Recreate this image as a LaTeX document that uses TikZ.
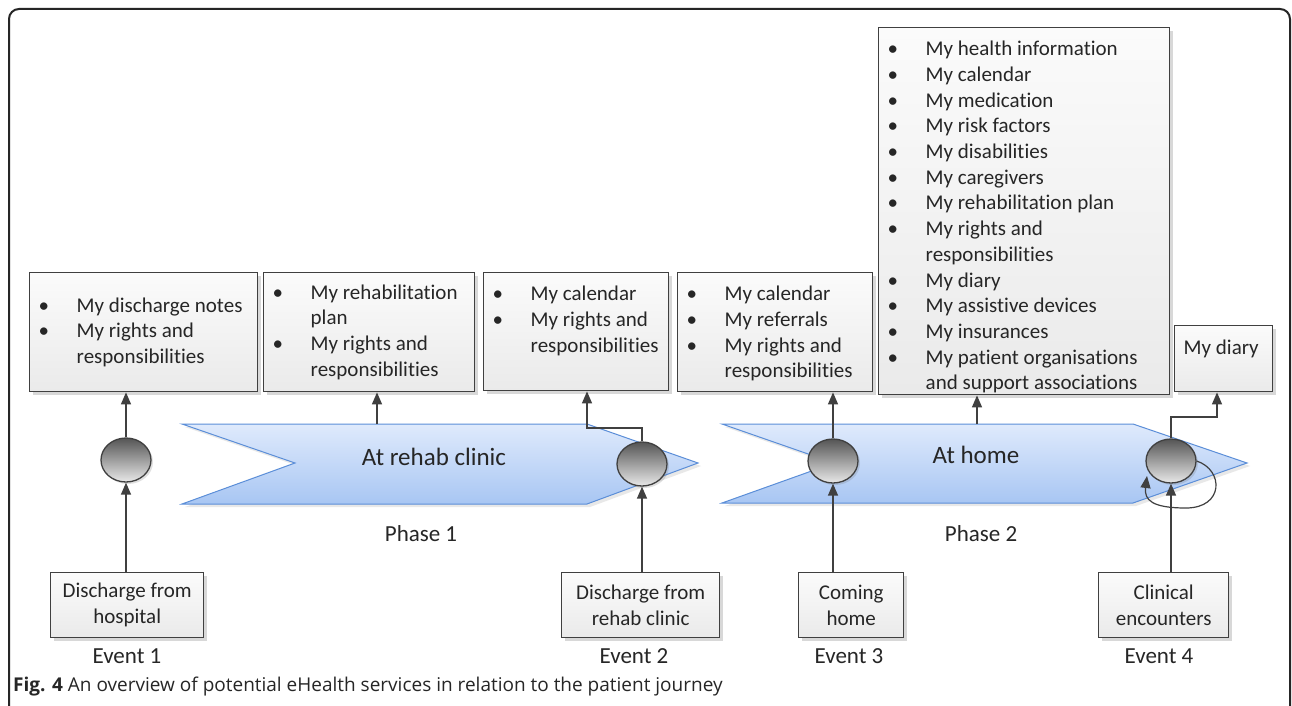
\documentclass[tikz,border=0pt]{standalone}
\usepackage{fontspec}
\setmainfont{Carlito}[Ligatures=NoCommon]
\newfontfamily\capfont{Open Sans}
\usetikzlibrary{shadows,arrows.meta,shapes.geometric}
\definecolor{txt}{HTML}{262626}
\definecolor{edge}{HTML}{404040}
\definecolor{bluetop}{HTML}{DFEAFC}
\definecolor{bluebot}{HTML}{A8C6F3}
\definecolor{blueedge}{HTML}{5B8ED8}
\definecolor{boxtop}{HTML}{FBFBFB}
\definecolor{boxbot}{HTML}{EAEAEA}
\definecolor{circtop}{HTML}{555555}
\definecolor{circbot}{HTML}{E8E8E8}
\newcommand\bul[1]{\par\noindent\hangindent=47pt\hangafter=1\makebox[47pt][l]{\hspace{9pt}\textbullet}#1\par}
\newcommand\bulf[1]{\par\noindent\hangindent=47pt\hangafter=1\makebox[47pt][l]{\rule{0pt}{28pt}\hspace{9pt}\textbullet}#1\par}
\tikzset{
  infobox/.style={draw=edge, line width=1.4pt, top color=boxtop, bottom color=boxbot,
    inner sep=0pt, anchor=north west, text=txt, font=\fontsize{21}{25.7}\selectfont,
    drop shadow={shadow xshift=3pt, shadow yshift=-3pt, opacity=0.25, fill=black!60}},
  evcirc/.style={ellipse, draw=edge, line width=1.3pt, top color=circtop, bottom color=circbot,
    minimum width=50pt, minimum height=44pt, inner sep=0pt,
    drop shadow={shadow xshift=2pt, shadow yshift=-2pt, opacity=0.2, fill=black!60}},
  banner/.style={draw=blueedge, line width=1pt, top color=bluetop, bottom color=bluebot,
    drop shadow={shadow xshift=3pt, shadow yshift=-3pt, opacity=0.15, fill=black!60}},
  arr/.style={draw=edge, line width=1.4pt, -{Triangle[length=12pt,width=10pt]}},
  biglab/.style={text=txt, font=\fontsize{25}{30}\selectfont, inner sep=0pt},
  lab/.style={text=txt, font=\fontsize{23}{28}\selectfont, inner sep=0pt}
}
\begin{document}
\begin{tikzpicture}[x=1pt,y=-1pt]
\useasboundingbox (0,0) rectangle (1292,706);
\clip (0,0) rectangle (1292,706);
\fill[white] (0,0) rectangle (1292,706);
% frame
\draw[line width=2pt, draw=black!85, rounded corners=10pt] (9,740) -- (9,9) -- (1290,9) -- (1290,740);
% banners
\path[banner] (182,424) -- (587,424) -- (698,463) -- (587,504) -- (182,504) -- (295,463) -- cycle;
\path[banner] (722,424) -- (1133,424) -- (1247,463) -- (1133,503) -- (722,503) -- (834,463) -- cycle;
\node[biglab] (t1) at (434,457) {At rehab clinic};
\node[biglab] (t2) at (976,455) {At home};
\node[lab] (p1) at (421,534) {Phase 1};
\node[lab] (p2) at (981,534) {Phase 2};
\coordinate (b1top) at (377,424);
\coordinate (b2top) at (977,424);
% info boxes
\node[infobox] (bA) at (29,272) {\parbox[c][119pt][c]{228pt}{%
  \bul{My discharge notes}\bul{My rights and\newline responsibilities}}};
\node[infobox] (bB) at (263,272) {\parbox[c][119pt][c]{211pt}{%
  \bul{My rehabilitation\newline plan}\bul{My rights and\newline responsibilities}}};
\node[infobox] (bC) at (483,272) {\parbox[c][118pt][t]{185pt}{%
  \bulf{My calendar}\bul{My rights and\newline responsibilities}}};
\node[infobox] (bD) at (677,272) {\parbox[c][119pt][t]{195pt}{%
  \bulf{My calendar}\bul{My referrals}\bul{My rights and\newline responsibilities}}};
\node[infobox] (bE) at (878,27) {\parbox[c][367pt][t]{291pt}{%
  \bulf{My health information}\bul{My calendar}\bul{My medication}\bul{My risk factors}%
  \bul{My disabilities}\bul{My caregivers}\bul{My rehabilitation plan}%
  \bul{My rights and\newline responsibilities}\bul{My diary}\bul{My assistive devices}%
  \bul{My insurances}\bul{My patient organisations\newline and support associations}}};
\node[infobox] (bF) at (1174,325) {\parbox[c][66pt][t]{98pt}{%
  \rule{0pt}{29pt}\hspace{9pt}My diary}};
% event boxes
\node[infobox] (e1) at (50,572) {\parbox[c][65pt][c]{153pt}{\centering Discharge from\\hospital}};
\node[infobox] (e2) at (561,572) {\parbox[c][65pt][c]{158pt}{\centering Discharge from\\rehab clinic}};
\node[infobox] (e3) at (798,572) {\parbox[c][65pt][c]{105pt}{\centering Coming\\home}};
\node[infobox] (e4) at (1098,572) {\parbox[c][65pt][c]{130pt}{\centering Clinical\\encounters}};
\node[lab] (l1) at (127,656) {Event 1};
\node[lab] (l2) at (634,656) {Event 2};
\node[lab] (l3) at (849,656) {Event 3};
\node[lab] (l4) at (1159,656) {Event 4};
% circles
\node[evcirc] (c1) at (126,460) {};
\node[evcirc] (c2) at (642,464) {};
\node[evcirc] (c3) at (833,461) {};
\node[evcirc] (c4) at (1171,461) {};
% connectors
\draw[arr] (c1.north) -- (c1.north |- bA.south);
\draw[arr] (c1.south |- e1.north) -- (c1.south);
\draw[arr] (b1top) -- (b1top |- bB.south);
\coordinate (k2) at (587,428);
\draw[arr] (c2.north) |- (k2) -- (k2 |- bC.south);
\draw[arr] (c2.south |- e2.north) -- (c2.south);
\draw[arr] (c3.north) -- (c3.north |- bD.south);
\draw[arr] (c3.south |- e3.north) -- (c3.south);
\draw[arr] (b2top) -- (b2top |- bE.south);
\coordinate (k4) at (1217,417);
\draw[arr] (c4.north) |- (k4) -- (k4 |- bF.south);
\draw[arr] (c4.south |- e4.north) -- (c4.south);
\draw[arr, line width=1.2pt] (c4.east) .. controls (1224,470) and (1224,508) .. (1186,508)
  .. controls (1152,508) and (1144,500) .. (1147,476);
% caption
\node[anchor=west, inner sep=0pt, text=black!85, font=\capfont\fontsize{19}{22}\selectfont] (cap) at (13,687)
  {\textbf{Fig. 4} An overview of potential eHealth services in relation to the patient journey};
\end{tikzpicture}
\end{document}
